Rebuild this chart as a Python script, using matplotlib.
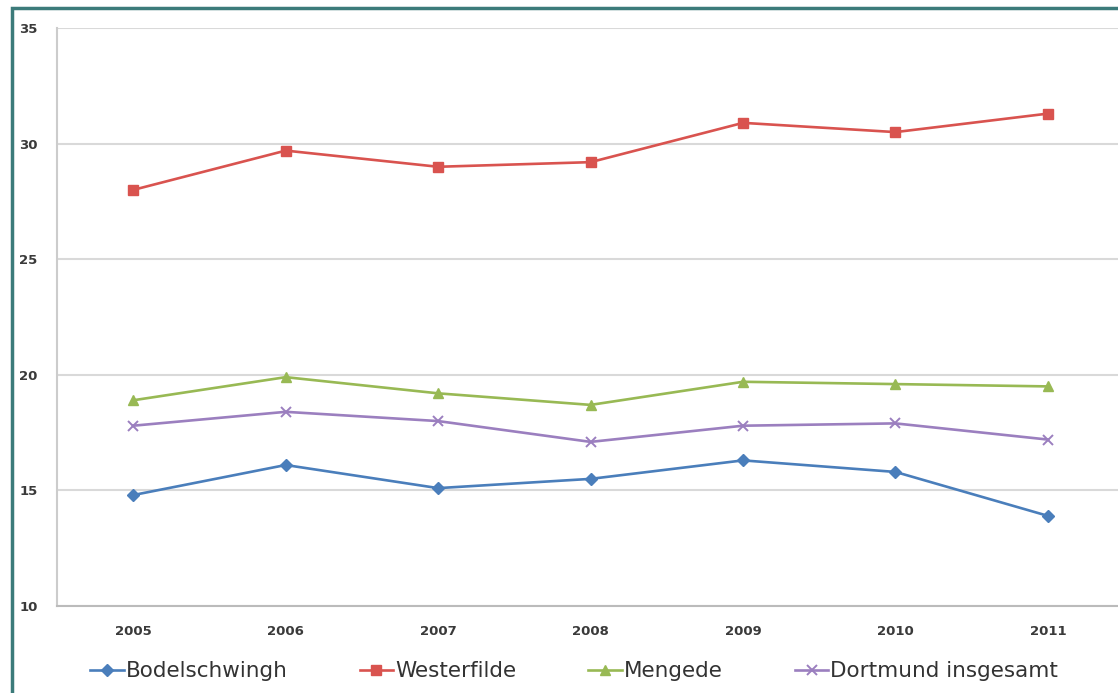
import matplotlib.pyplot as plt
from matplotlib.patches import Rectangle

years = ['2005', '2006', '2007', '2008', '2009', '2010', '2011']
bodelschwingh = [14.8, 16.1, 15.1, 15.5, 16.3, 15.8, 13.9]
westerfilde = [28.0, 29.7, 29.0, 29.2, 30.9, 30.5, 31.3]
mengede = [18.9, 19.9, 19.2, 18.7, 19.7, 19.6, 19.5]
dortmund = [17.8, 18.4, 18.0, 17.1, 17.8, 17.9, 17.2]

fig = plt.figure(figsize=(11.18, 6.93), dpi=100)
ax = fig.add_axes([0.051, 0.1255, 0.9545, 0.834])

x = range(len(years))
ax.plot(x, bodelschwingh, color='#4a7ebb', lw=1.9, marker='D', ms=6, label='Bodelschwingh')
ax.plot(x, westerfilde, color='#d9534f', lw=1.9, marker='s', ms=7.5, label='Westerfilde')
ax.plot(x, mengede, color='#98b954', lw=1.9, marker='^', ms=7.5, label='Mengede')
ax.plot(x, dortmund, color='#9b7fbf', lw=1.9, marker='x', ms=7, mew=1.4, label='Dortmund insgesamt')

ax.set_xlim(-0.5, len(years) - 0.5)
ax.set_ylim(10, 35)
ax.set_yticks([10, 15, 20, 25, 30, 35])
ax.set_xticks(list(x))
ax.set_xticklabels(years)
ax.grid(axis='y', color='#d9d9d9', lw=1.5)
ax.set_axisbelow(True)
for side in ['top', 'right']:
    ax.spines[side].set_visible(False)
ax.spines['left'].set_color('#cccccc')
ax.spines['left'].set_linewidth(1.5)
ax.spines['bottom'].set_color('#bbbbbb')
ax.spines['bottom'].set_linewidth(1.5)
ax.tick_params(axis='y', length=0, pad=14, labelsize=9.5, labelcolor='#3a3a3a')
ax.tick_params(axis='x', length=0, pad=14, labelsize=9.5, labelcolor='#3a3a3a')
for lbl in ax.get_xticklabels() + ax.get_yticklabels():
    lbl.set_fontweight('bold')

leg = ax.legend(loc='upper left', bbox_to_anchor=(0.023, -0.081), ncol=4, frameon=False,
                fontsize=15.5, handlelength=1.55, handletextpad=0.1, columnspacing=3.35,
                borderaxespad=0)
for t in leg.get_texts():
    t.set_color('#333333')

# teal frame around the chart
fig.patches.append(Rectangle((0.011, -0.05), 1.1, 1.038, transform=fig.transFigure,
                             fill=False, edgecolor='#3c7b7a', lw=2.5))

fig.savefig('out.png', dpi=100)
